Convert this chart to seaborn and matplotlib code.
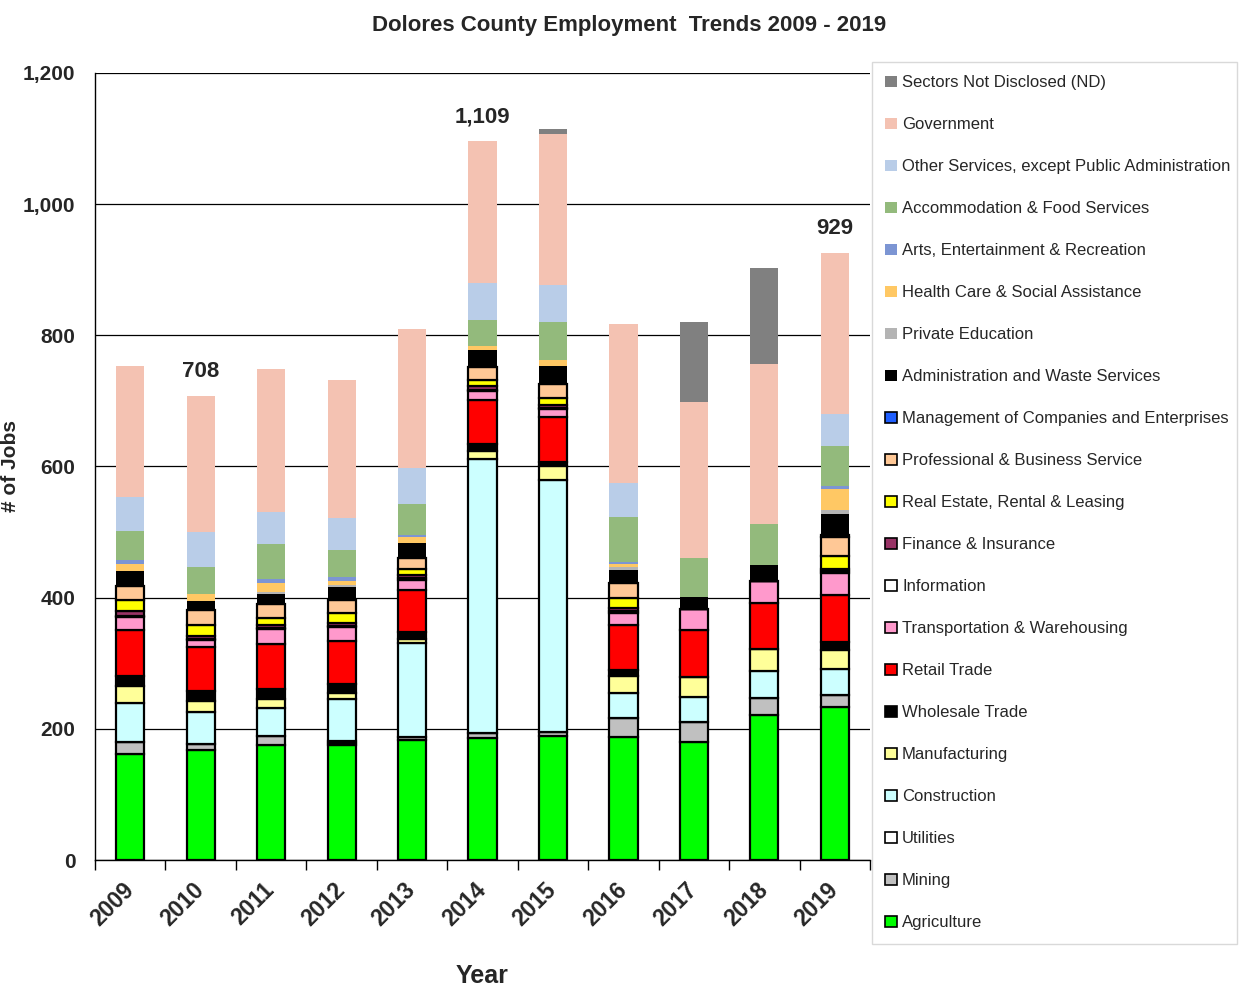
import numpy as np
import pandas as pd
import matplotlib
matplotlib.use("Agg")
import matplotlib.pyplot as plt
from matplotlib.patches import Patch
import seaborn as sns

sns.set_theme(style="white")
plt.rcParams['font.family'] = ['Liberation Sans', 'DejaVu Sans']

years = ['2009', '2010', '2011', '2012', '2013', '2014', '2015', '2016', '2017', '2018', '2019']

# sectors, bottom of the stack first
agriculture    = [162, 167, 176, 175, 183, 186, 189, 188, 180, 221, 233]
mining         = [18, 10, 13, 4, 4, 7, 6, 28, 30, 26, 18]
utilities      = [0, 0, 0, 3, 0, 0, 0, 0, 0, 0, 0]
construction   = [60, 48, 43, 63, 144, 419, 385, 38, 39, 41, 40]
manufacturing  = [25, 17, 13, 10, 6, 11, 21, 26, 30, 33, 29]
wholesale      = [16, 15, 15, 13, 10, 11, 6, 9, 0, 0, 12]
retail         = [69, 68, 70, 66, 65, 67, 68, 70, 71, 71, 72]
transportation = [21, 11, 22, 22, 15, 14, 12, 18, 32, 34, 33]
information    = [1, 1, 1, 1, 3, 2, 2, 2, 0, 0, 4]
finance        = [8, 5, 6, 4, 4, 5, 5, 6, 0, 0, 3]
real_estate    = [17, 16, 10, 15, 10, 10, 10, 14, 0, 0, 20]
professional   = [21, 23, 21, 21, 17, 20, 22, 23, 0, 0, 28]
management     = [0, 0, 0, 0, 0, 0, 0, 0, 0, 0, 3]
admin_waste    = [22, 14, 15, 19, 22, 26, 27, 20, 19, 24, 32]
private_ed     = [0, 0, 4, 3, 0, 0, 0, 4, 0, 0, 7]
health_care    = [12, 10, 13, 7, 9, 5, 9, 5, 0, 0, 32]
arts           = [5, 0, 6, 5, 4, 0, 0, 3, 0, 0, 4]
accommodation  = [44, 41, 54, 42, 47, 40, 58, 69, 60, 63, 62]
other_services = [52, 54, 49, 49, 55, 57, 57, 52, 0, 0, 48]
government     = [200, 208, 217, 210, 212, 216, 230, 242, 238, 244, 246]
not_disclosed  = [0, 0, 0, 0, 0, 0, 8, 0, 122, 146, 0]

sectors = [
    ("Agriculture", agriculture, "#00FF00", True),
    ("Mining", mining, "#C0C0C0", True),
    ("Utilities", utilities, "#FFFFFF", True),
    ("Construction", construction, "#CCFFFF", True),
    ("Manufacturing", manufacturing, "#FFFF99", True),
    ("Wholesale Trade", wholesale, "#000000", True),
    ("Retail Trade", retail, "#FF0000", True),
    ("Transportation & Warehousing", transportation, "#FF99CC", True),
    ("Information", information, "#FFFFFF", True),
    ("Finance & Insurance", finance, "#993366", True),
    ("Real Estate, Rental & Leasing", real_estate, "#FFFF00", True),
    ("Professional & Business Service", professional, "#FFC896", True),
    ("Management of Companies and Enterprises", management, "#1F5FFF", True),
    ("Administration and Waste Services", admin_waste, "#000000", False),
    ("Private Education", private_ed, "#B4B4B4", False),
    ("Health Care & Social Assistance", health_care, "#FFC864", False),
    ("Arts, Entertainment & Recreation", arts, "#7C95D3", False),
    ("Accommodation & Food Services", accommodation, "#93BA7C", False),
    ("Other Services, except Public Administration", other_services, "#B9CDE8", False),
    ("Government", government, "#F4C2B2", False),
    ("Sectors Not Disclosed (ND)", not_disclosed, "#808080", False),
]

# data labels shown above a few bars
label_idx = [1, 5, 10]
label_txt = ["708", "1,109", "929"]

fig = plt.figure(figsize=(12.39, 9.88), dpi=100)
ax = fig.add_axes([95 / 1239, 128 / 988, 775 / 1239, 787 / 988])

bottom = np.zeros(len(years))
handles = []
for name, vals, color, edged in sectors:
    df = pd.DataFrame({"Year": years, "Jobs": vals})
    sns.barplot(data=df, x="Year", y="Jobs", ax=ax, color=color, saturation=1,
                width=0.4, bottom=bottom.copy(),
                edgecolor="black" if edged else color,
                linewidth=1.6 if edged else 0)
    bottom += np.array(vals)
    handles.append(Patch(facecolor=color, edgecolor="black" if edged else color,
                         linewidth=1.2 if edged else 0, label=name))

for i, t in zip(label_idx, label_txt):
    ax.annotate(t, (i, bottom[i]), xytext=(0, 10), textcoords="offset points",
                ha="center", va="bottom", fontsize=16, fontweight="bold")

ax.set_ylim(0, 1200)
ax.set_xlim(-0.5, 10.5)
ax.set_yticks(range(0, 1201, 200))
ax.set_yticklabels([f"{v:,}" for v in range(0, 1201, 200)], fontsize=15, fontweight="bold")
ax.yaxis.grid(True, color="black", linewidth=0.9)
ax.set_axisbelow(True)
ax.set_xticks(range(len(years)))
ax.set_xticklabels(years, rotation=45, ha="right", va="center",
                   rotation_mode="anchor", fontsize=16.5, fontweight="bold")
ax.set_xticks(np.arange(-0.5, 11, 1), minor=True)
ax.tick_params(axis="x", which="major", length=0, pad=19)
ax.tick_params(axis="x", which="minor", length=7, color="black", width=1, direction="out")
ax.tick_params(axis="y", length=0, pad=14)
ax.xaxis.set_ticks_position("bottom")
for s in ["top", "right"]:
    ax.spines[s].set_visible(False)
for s in ["left", "bottom"]:
    ax.spines[s].set_color("black")
    ax.spines[s].set_linewidth(1.0)

ax.set_xlabel("Year", fontsize=18, fontweight="bold", labelpad=24)
ax.set_ylabel("# of Jobs", fontsize=15, fontweight="bold", labelpad=2)
fig.suptitle("Dolores County Employment  Trends 2009 - 2019", x=0.508, y=0.985,
             fontsize=16, fontweight="bold")

leg = fig.legend(handles=handles[::-1], loc="upper left",
                 bbox_to_anchor=(872 / 1239, 1 - 62 / 988, 365 / 1239, 0.0),
                 mode="expand", fontsize=12, frameon=True, fancybox=False,
                 edgecolor="#D0D0D0", handlelength=0.7, handleheight=0.7,
                 handletextpad=0.3, labelspacing=1.62, borderpad=0.8,
                 borderaxespad=0)
leg.get_frame().set_linewidth(1.0)

fig.savefig("out.png", dpi=100)
